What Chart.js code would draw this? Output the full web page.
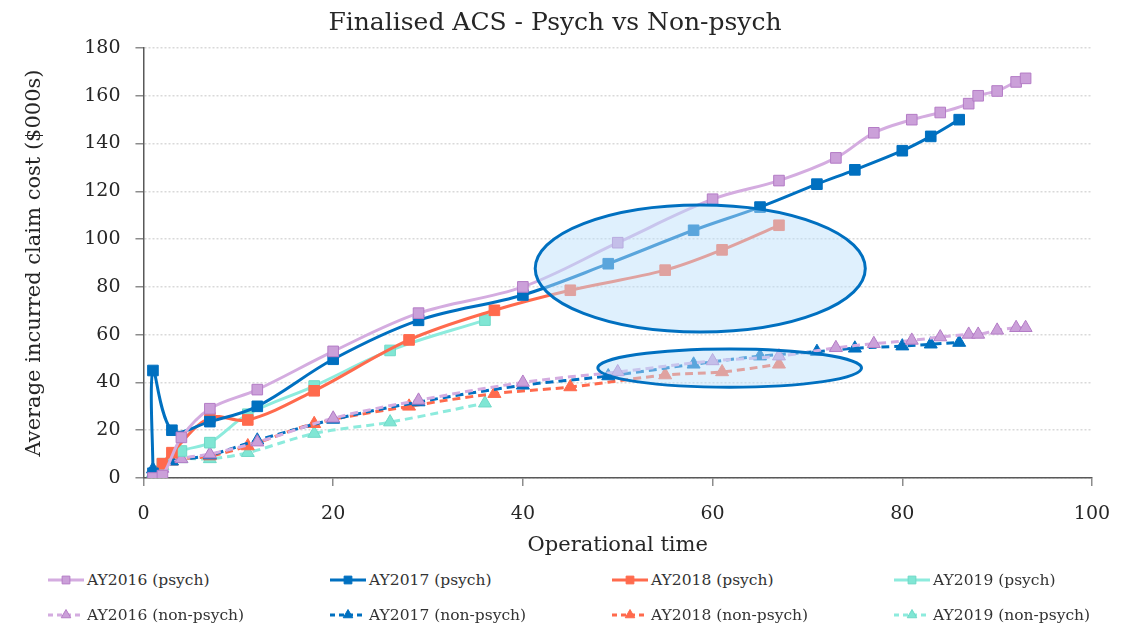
<!DOCTYPE html>
<html>
<head>
<meta charset="utf-8">
<script src="https://cdn.jsdelivr.net/npm/chart.js@4.4.1/dist/chart.umd.min.js"></script>
<style>
  body { margin: 0; background: #fff; }
  #wrap { position: relative; width: 1138px; height: 562px; }
  #legend {
    display: grid;
    grid-template-columns: 282px 282px 282px 282px;
    margin-left: 48px;
    margin-top: 7px;
    row-gap: 13px;
    font-family: "DejaVu Serif", serif;
    font-size: 15.5px;
    color: #333;
  }
  .item { display: flex; align-items: center; height: 22px; }
  .item canvas { margin-right: 3px; }
</style>
</head>
<body>
<div id="wrap"><canvas id="myChart"></canvas></div>
<div id="legend"></div>
<script>
// operational time (x) and average incurred cost in $000s (y)
const x2016p = [1, 2, 4, 7, 12, 20, 29, 40, 50, 60, 67, 73, 77, 81, 84, 87, 88, 90, 92, 93];
const y2016p = [0, 1, 17, 29, 37, 53, 69, 80, 98.5, 116.7, 124.5, 134, 144.5, 150, 153, 156.7, 160, 162, 165.8, 167.3];
const x2017p = [1, 1, 3, 7, 12, 20, 29, 40, 49, 58, 65, 71, 75, 80, 83, 86];
const y2017p = [2, 45, 20, 23.6, 30, 49.7, 66, 76.6, 89.7, 103.7, 113.4, 123, 129, 137, 143, 150];
const x2018p = [1, 2, 3, 7, 11, 18, 28, 37, 45, 55, 61, 67];
const y2018p = [1, 6, 10.6, 25.2, 24.3, 36.5, 57.8, 70.2, 78.6, 87, 95.5, 105.8];
const x2019p = [1, 2, 4, 7, 11, 18, 26, 36];
const y2019p = [0, 6, 11.3, 14.8, 26.7, 38.5, 53.4, 66.1];

const x2016n = [1, 2, 4, 7, 12, 20, 29, 40, 50, 60, 67, 73, 77, 81, 84, 87, 88, 90, 92, 93];
const y2016n = [1, 4, 8, 10, 15, 25, 32.5, 40, 44.4, 49, 51, 54.5, 56.2, 57.6, 59, 60.1, 60.1, 61.8, 62.9, 62.9];
const x2017n = [1, 3, 7, 12, 20, 29, 40, 49, 58, 65, 71, 75, 80, 83, 86];
const y2017n = [3.7, 7, 9.6, 15.8, 24.5, 31.8, 38.8, 42.7, 47.6, 51, 52.9, 54.3, 55.2, 56, 56.7];
const x2018n = [1, 3, 7, 11, 18, 28, 37, 45, 55, 61, 67];
const y2018n = [1, 7, 9.2, 13.4, 22.7, 30, 35.3, 38.1, 43.1, 44.4, 47.6];
const x2019n = [1, 2, 4, 7, 11, 18, 26, 36];
const y2019n = [2, 5, 8, 8, 10.6, 18.6, 23.4, 31.3];

const yTicks = [0, 20, 40, 60, 80, 100, 120, 140, 160, 180];
const xTicks = [0, 20, 40, 60, 80, 100];

// highlighted regions (data units)
const highlights = [
  { cx: 58.7, cy: 87.7, rx: 17.4, ry: 26.6 },
  { cx: 61.8, cy: 46, rx: 13.9, ry: 8 }
];

const FONT = "'DejaVu Serif', serif";

function pts(xs, ys) {
  return xs.map((x, i) => ({ x: x, y: ys[i] }));
}

function serie(label, xs, ys, line, fill, border, style, dashed) {
  return {
    label: label,
    data: pts(xs, ys),
    borderColor: line,
    backgroundColor: fill,
    pointBackgroundColor: fill,
    pointBorderColor: border,
    pointBorderWidth: 1,
    pointStyle: style,
    pointRadius: 7.5,
    borderWidth: 3,
    borderDash: dashed ? [8, 5] : [],
    tension: 0.35,
    fill: false
  };
}

const PURPLE = ["#D4ACE0", "#CBA0D9", "#B47CC6"];
const BLUE = ["#0070C0", "#0070C0", "#0070C0"];
const RED = ["#FF6A4D", "#FF6A4D", "#FF6A4D"];
const TEAL = ["#8DEBDD", "#80E6D4", "#6FD9C7"];

const datasets = [
  serie("AY2016 (psych)", x2016p, y2016p, PURPLE[0], PURPLE[1], PURPLE[2], "rect", false),
  serie("AY2017 (psych)", x2017p, y2017p, BLUE[0], BLUE[1], BLUE[2], "rect", false),
  serie("AY2018 (psych)", x2018p, y2018p, RED[0], RED[1], RED[2], "rect", false),
  serie("AY2019 (psych)", x2019p, y2019p, TEAL[0], TEAL[1], TEAL[2], "rect", false),
  serie("AY2016 (non-psych)", x2016n, y2016n, PURPLE[0], PURPLE[1], PURPLE[2], "triangle", true),
  serie("AY2017 (non-psych)", x2017n, y2017n, BLUE[0], BLUE[1], BLUE[2], "triangle", true),
  serie("AY2018 (non-psych)", x2018n, y2018n, RED[0], RED[1], RED[2], "triangle", true),
  serie("AY2019 (non-psych)", x2019n, y2019n, TEAL[0], TEAL[1], TEAL[2], "triangle", true)
];

// draws the shaded ellipses over the lines
const ellipsePlugin = {
  id: "ellipses",
  afterDatasetsDraw(chart) {
    const ctx = chart.ctx;
    const xs = chart.scales.x;
    const ys = chart.scales.y;
    highlights.forEach((h) => {
      const cx = xs.getPixelForValue(h.cx);
      const cy = ys.getPixelForValue(h.cy);
      const rx = Math.abs(xs.getPixelForValue(h.cx + h.rx) - cx);
      const ry = Math.abs(ys.getPixelForValue(h.cy + h.ry) - cy);
      ctx.save();
      ctx.beginPath();
      ctx.ellipse(cx, cy, rx, ry, 0, 0, Math.PI * 2);
      ctx.fillStyle = "rgba(188,223,250,0.48)";
      ctx.fill();
      ctx.lineWidth = 3;
      ctx.strokeStyle = "#0070C0";
      ctx.stroke();
      ctx.restore();
    });
  }
};

const ctx = document.getElementById("myChart");

new Chart(ctx, {
  type: "line",
  data: { datasets: datasets },
  plugins: [ellipsePlugin],
  options: {
    responsive: true,
    maintainAspectRatio: false,
    animation: false,
    layout: { padding: { left: 18, right: 46, top: 0, bottom: 4 } },
    plugins: {
      legend: { display: false },
      tooltip: { enabled: false },
      title: {
        display: true,
        text: "Finalised ACS - Psych vs Non-psych",
        color: "#262626",
        font: { family: FONT, size: 25, weight: "normal" },
        padding: { top: 8, bottom: 10 }
      }
    },
    scales: {
      x: {
        type: "linear",
        min: 0,
        max: 100,
        afterBuildTicks: (axis) => { axis.ticks = xTicks.map((v) => ({ value: v })); },
        afterFit: (axis) => { axis.height -= 10; },
        grid: { drawOnChartArea: false, drawTicks: true, tickLength: 8, tickColor: "#8C8C8C", lineWidth: 1.5 },
        border: { display: true, color: "#595959", width: 1.5 },
        ticks: { color: "#262626", font: { family: FONT, size: 19 }, padding: 17 },
        title: { display: true, text: "Operational time", color: "#262626", font: { family: FONT, size: 21 }, padding: { top: 0, bottom: 0 } }
      },
      y: {
        min: 0,
        max: 180,
        afterBuildTicks: (axis) => { axis.ticks = yTicks.map((v) => ({ value: v })); },
        grid: {
          color: "#D9D9D9",
          lineWidth: 1.5,
          drawTicks: true,
          tickLength: 8,
          tickColor: "#8C8C8C",
          tickBorderDash: [],
          tickWidth: 1.5
        },
        border: { display: true, color: "#595959", width: 1.5, dash: [2, 2] },
        ticks: { color: "#262626", font: { family: FONT, size: 19 }, padding: 15 },
        title: { display: true, text: "Average incurred claim cost ($000s)", color: "#262626", font: { family: FONT, size: 21 }, padding: { bottom: 22 } }
      }
    }
  }
});

// html legend in a 4 x 2 grid
const legendDiv = document.getElementById("legend");
datasets.forEach((d) => {
  const item = document.createElement("div");
  item.classList.add("item");
  const c = document.createElement("canvas");
  c.width = 36;
  c.height = 16;
  const g = c.getContext("2d");
  g.strokeStyle = d.borderColor;
  g.lineWidth = 3;
  g.setLineDash(d.borderDash.length ? [5, 4] : []);
  g.beginPath();
  g.moveTo(0, 8);
  g.lineTo(36, 8);
  g.stroke();
  g.setLineDash([]);
  g.fillStyle = d.pointBackgroundColor;
  g.strokeStyle = d.pointBorderColor;
  g.lineWidth = 1;
  Chart.helpers.drawPoint(g, { pointStyle: d.pointStyle, radius: 5.5, borderWidth: 1 }, 18, 8);
  item.appendChild(c);
  const t = document.createElement("span");
  t.innerText = d.label;
  item.appendChild(t);
  legendDiv.appendChild(item);
});
</script>
</body>
</html>
